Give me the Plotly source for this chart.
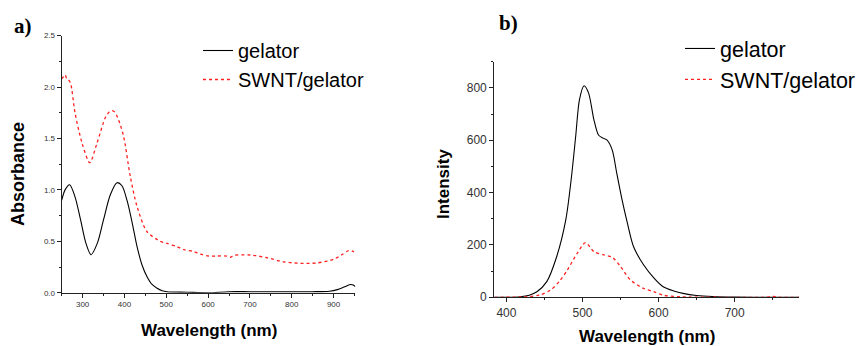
import plotly.graph_objects as go

# Panel a: absorbance
abs_wl_gel = [250, 258, 269, 282, 295, 308, 320, 335, 350, 366, 382, 394, 406, 418, 430, 442, 454, 466, 478, 490, 502, 550, 600, 650, 700, 750, 800, 850, 890, 909, 925, 940, 947, 952]
abs_gel = [0.90, 1.00, 1.05, 0.93, 0.71, 0.48, 0.37, 0.48, 0.71, 0.95, 1.07, 1.04, 0.90, 0.69, 0.45, 0.27, 0.156, 0.08, 0.043, 0.02, 0.01, 0.005, 0.0, 0.01, 0.01, 0.01, 0.01, 0.01, 0.015, 0.03, 0.055, 0.08, 0.075, 0.06]

abs_wl_swnt = [250, 254, 258, 262, 266, 271, 282, 299, 317, 334, 354, 364, 370, 376, 386, 398, 414, 430, 454, 486, 502, 526, 542, 566, 582, 601, 622, 645, 653, 661, 701, 741, 781, 821, 861, 900, 920, 936, 945, 954]
abs_swnt = [2.08, 2.10, 2.12, 2.08, 2.07, 2.04, 1.745, 1.45, 1.265, 1.45, 1.70, 1.76, 1.77, 1.76, 1.68, 1.52, 1.13, 0.84, 0.593, 0.50, 0.48, 0.447, 0.42, 0.40, 0.376, 0.357, 0.357, 0.356, 0.345, 0.362, 0.367, 0.34, 0.30, 0.286, 0.29, 0.325, 0.37, 0.41, 0.405, 0.383]

# Panel b: fluorescence intensity
fl_wl_gel = [384, 405, 418, 430, 440, 453, 466, 478, 485, 491, 496, 502, 508, 515, 521, 527, 532, 539, 545, 552, 559, 567, 580, 594, 606, 620, 632, 650, 671, 700, 750, 785]
fl_gel = [0, 0, 2, 8, 21, 60, 155, 296, 448, 614, 755, 808, 780, 678, 620, 608, 601, 563, 474, 372, 283, 194, 125, 73, 40, 24, 15, 7, 3, 1, 0, 0]

fl_wl_swnt = [384, 427, 444, 458, 470, 480, 493, 504, 515, 528, 539, 550, 563, 580, 594, 606, 629, 680, 740, 750, 760, 785]
fl_swnt = [0, 2, 9, 28, 62, 104, 168, 209, 174, 162, 153, 117, 66, 34, 21, 8, 2, 0, 0, 3, 0, 0]

font = "Arial, Liberation Sans, sans-serif"
RED = "#ff2020"

fig = go.Figure()
fig.add_trace(go.Scatter(x=abs_wl_gel, y=abs_gel, mode="lines", name="gelator",
                         line=dict(color="black", width=1.1, shape="spline", smoothing=0.8),
                         xaxis="x", yaxis="y", legend="legend"))
fig.add_trace(go.Scatter(x=abs_wl_swnt, y=abs_swnt, mode="lines", name="SWNT/gelator",
                         line=dict(color=RED, width=1.3, dash="dot", shape="spline", smoothing=0.8),
                         xaxis="x", yaxis="y", legend="legend"))
fig.add_trace(go.Scatter(x=fl_wl_gel, y=fl_gel, mode="lines", name="gelator",
                         line=dict(color="black", width=1.1, shape="spline", smoothing=0.8),
                         xaxis="x2", yaxis="y2", legend="legend2"))
fig.add_trace(go.Scatter(x=fl_wl_swnt, y=fl_swnt, mode="lines", name="SWNT/gelator",
                         line=dict(color=RED, width=1.3, dash="dot", shape="spline", smoothing=0.8),
                         xaxis="x2", yaxis="y2", legend="legend2"))

def axis(domain, rng, dtick, minor, fsize, anchor, fmt=None):
    d = dict(domain=domain, range=rng, dtick=dtick, showline=True, linecolor="#222",
             linewidth=1.2, mirror=False, showgrid=False, zeroline=False,
             ticks="outside", ticklen=4, tickcolor="#222", tickwidth=1,
             tickfont=dict(family=font, size=fsize, color="#333"),
             minor=dict(dtick=minor, ticks="outside", ticklen=2, tickcolor="#222"),
             anchor=anchor, automargin=False)
    if fmt:
        d["tickformat"] = fmt
    return d

fig.update_layout(
    width=862, height=346, margin=dict(l=0, r=0, t=0, b=0, autoexpand=False),
    paper_bgcolor="white", plot_bgcolor="white", showlegend=True,
    xaxis=axis([0.0716, 0.4122], [250, 952], 100, 50, 8, "y"),
    yaxis=axis([0.154, 0.897], [0, 2.5], 0.5, 0.25, 8, "x", ".1f"),
    xaxis2=axis([0.5734, 0.9273], [384, 785], 100, 50, 12, "y2"),
    yaxis2=axis([0.1408, 0.8217], [0, 900], 200, 100, 12, "x2"),
    legend=dict(x=198/862, y=1 - 31/346, xanchor="left", yanchor="top",
                font=dict(family=font, size=20, color="black"), bgcolor="rgba(0,0,0,0)",
                tracegroupgap=0),
    legend2=dict(x=680/862, y=1 - 28/346, xanchor="left", yanchor="top",
                 font=dict(family=font, size=21.5, color="black"), bgcolor="rgba(0,0,0,0)",
                 tracegroupgap=0),
    annotations=[
        dict(text="<b>a)</b>", x=12/862, y=1 - 26/346, xref="paper", yref="paper",
             xanchor="left", yanchor="middle", showarrow=False,
             font=dict(family="Times New Roman, Liberation Serif, serif", size=21, color="black")),
        dict(text="<b>b)</b>", x=497/862, y=1 - 23/346, xref="paper", yref="paper",
             xanchor="left", yanchor="middle", showarrow=False,
             font=dict(family="Times New Roman, Liberation Serif, serif", size=21, color="black")),
        dict(text="<b>Absorbance</b>", x=18/862, y=1 - 174/346, xref="paper", yref="paper",
             xanchor="center", yanchor="middle", showarrow=False, textangle=-90,
             font=dict(family=font, size=18, color="black")),
        dict(text="<b>Wavelength (nm)</b>", x=209/862, y=1 - 330/346, xref="paper", yref="paper",
             xanchor="center", yanchor="middle", showarrow=False,
             font=dict(family=font, size=17, color="black")),
        dict(text="<b>Intensity</b>", x=444/862, y=1 - 184/346, xref="paper", yref="paper",
             xanchor="center", yanchor="middle", showarrow=False, textangle=-90,
             font=dict(family=font, size=17, color="black")),
        dict(text="<b>Wavelength (nm)</b>", x=647/862, y=1 - 336/346, xref="paper", yref="paper",
             xanchor="center", yanchor="middle", showarrow=False,
             font=dict(family=font, size=17, color="black")),
    ],
)

fig.write_html("out.html")
